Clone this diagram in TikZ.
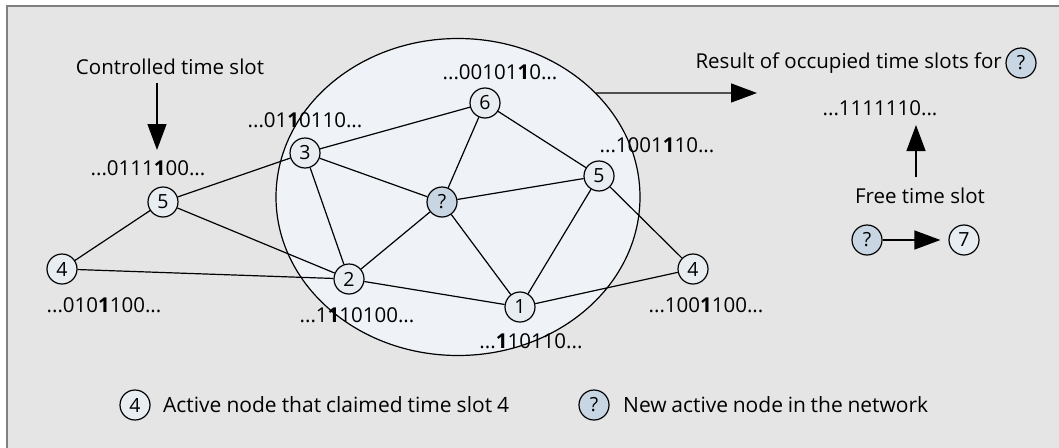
\documentclass[tikz,border=0pt]{standalone}
\usepackage{fontspec}
\setmainfont{Open Sans}
\usetikzlibrary{shapes.geometric,arrows.meta}

\definecolor{bgcol}{HTML}{E5E5E5}
\definecolor{framecol}{HTML}{808080}
\definecolor{zonecol}{HTML}{EFF3F7}
\definecolor{nodecol}{HTML}{E8EDF2}
\definecolor{newcol}{HTML}{C8D6E4}

\tikzset{
  station/.style={circle, draw, line width=1.2pt, fill=nodecol, minimum size=30pt,
                  inner sep=0pt, font=\fontsize{19.5}{20}\selectfont},
  newstation/.style={station, fill=newcol},
  link/.style={line width=1.2pt},
  txt/.style={anchor=base, inner sep=0pt, font=\fontsize{20.5}{24}\selectfont},
  legendtxt/.style={txt, anchor=base west, font=\fontsize{21}{24}\selectfont},
  bigarrow/.style={line width=1.3pt, -{Triangle[length=26pt,width=19pt]}},
}

\begin{document}
\begin{tikzpicture}[x=1pt, y=-1pt]
\useasboundingbox (0,0) rectangle (1059,447);
\clip (0,0) rectangle (1059,447);
\fill[white] (0,0) rectangle (1059,447);
% panel background with its top and left border
\draw[framecol, line width=2pt, fill=bgcol] (7,470) -- (7,6) -- (1080,6) -- (1080,470) -- cycle;

% neighbourhood of the new node
\node[ellipse, draw, line width=1.2pt, fill=zonecol, minimum width=364pt,
      minimum height=317pt, inner sep=0pt] (zone) at (458,197) {};

% stations
\node[station]    (a5) at (163,202) {5};
\node[station]    (a4) at (62,269)  {4};
\node[station]    (b3) at (305,153) {3};
\node[station]    (b2) at (349,279) {2};
\node[station]    (b6) at (485,103) {6};
\node[newstation] (q)  at (442,202) {?};
\node[station]    (c5) at (599,176) {5};
\node[station]    (b1) at (520,307) {1};
\node[station]    (c4) at (693,269) {4};

% links
\draw[link] (a5) -- (b3);
\draw[link] (a5) -- (a4);
\draw[link] (a5) -- (b2);
\draw[link] (a4) -- (b2);
\draw[link] (b3) -- (b6);
\draw[link] (b3) -- (q);
\draw[link] (b3) -- (b2);
\draw[link] (b6) -- (q);
\draw[link] (b6) -- (c5);
\draw[link] (q)  -- (c5);
\draw[link] (q)  -- (b2);
\draw[link] (q)  -- (b1);
\draw[link] (b2) -- (b1);
\draw[link] (c5) -- (b1);
\draw[link] (c5) -- (c4);
\draw[link] (b1) -- (c4);

% slot maps of the stations
\node[txt] (s5a) at (148,175) {...0111\textbf{1}00...};
\node[txt] (s3)  at (305,127) {...01\textbf{1}0110...};
\node[txt] (s6)  at (500,79)  {...00101\textbf{1}0...};
\node[txt] (s5c) at (657,152) {...1001\textbf{1}10...};
\node[txt] (s4a) at (104,312) {...010\textbf{1}100...};
\node[txt] (s2)  at (357,322) {...1\textbf{1}10100...};
\node[txt] (s1)  at (531,348) {...\textbf{1}10110...};
\node[txt] (s4c) at (706,312) {...100\textbf{1}100...};

% controlled slot
\node[txt] (ctrl) at (170,74) {Controlled time slot};
\coordinate (ctrltop) at (157,83);
\coordinate (ctrltip) at (157,150);
\draw[bigarrow] (ctrltop) -- (ctrltip);

% result for the new node
\coordinate (restip) at (757,93);
\draw[bigarrow] (zone.37) -- (restip);
\node[newstation] (qr) at (1021,63) {?};
\node[txt, anchor=base east] (res) at (1002,68) {Result of occupied time slots for};
\node[txt] (sres) at (880,115) {...1111110...};

% free slot
\node[txt] (free) at (920,203) {Free time slot};
\coordinate (freebot) at (916,177);
\coordinate (freetip) at (916,125);
\draw[bigarrow] (freebot) -- (freetip);
\node[newstation] (qf) at (867,240) {?};
\node[station]    (n7) at (964,240) {7};
\draw[bigarrow, shorten >=8pt] (qf) -- (n7);

% legend
\node[station] (lg4) at (135,405) {4};
\node[legendtxt] (lt4) at (163,412) {\makebox[346pt][s]{Active node that claimed time slot 4}};
\node[newstation] (lgq) at (594,405) {?};
\node[legendtxt] (ltq) at (623,412) {\makebox[305pt][s]{New active node in the network}};
\end{tikzpicture}
\end{document}
